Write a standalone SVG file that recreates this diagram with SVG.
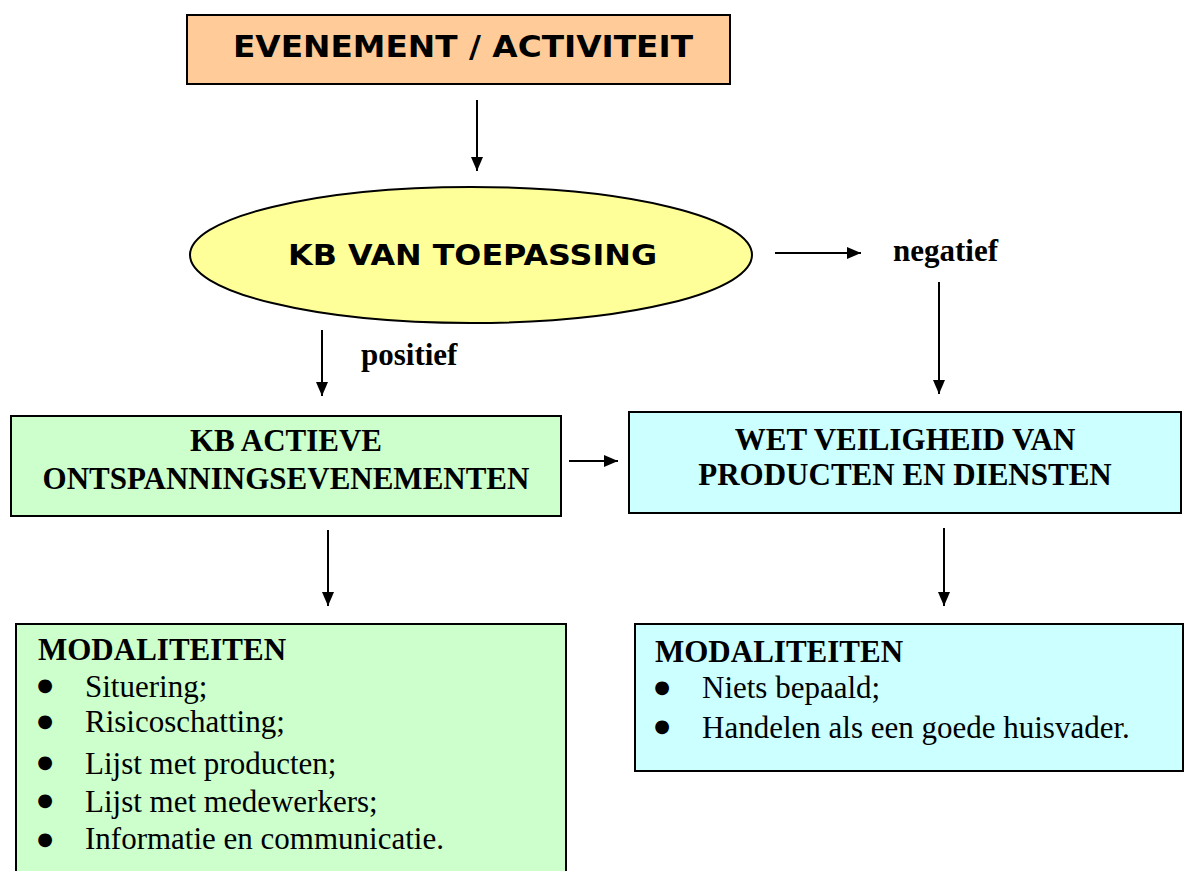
<svg xmlns="http://www.w3.org/2000/svg" width="1187" height="871" viewBox="0 0 1187 871">
<style>
.box{stroke:#000;stroke-width:2}
.sans{font-family:"DejaVu Sans",Verdana,sans-serif;font-weight:bold;fill:#000}
.serif{font-family:"Liberation Serif","Times New Roman",serif;fill:#000}
.b{font-weight:bold}
.bul{font-family:"DejaVu Sans",sans-serif;font-size:18px;fill:#000;text-anchor:middle}
.conn{stroke:#000;stroke-width:2;fill:none;marker-end:url(#ah)}
</style>
<defs>
<marker id="ah" viewBox="0 0 14 12" refX="14" refY="6" markerWidth="14" markerHeight="12" markerUnits="userSpaceOnUse" orient="auto">
<path d="M0,0 L14,6 L0,12 Z" fill="#000"/>
</marker>
</defs>
<rect width="1187" height="871" fill="#fff"/>
<g id="connectors">
<line class="conn" x1="477" y1="100" x2="477" y2="171"/>
<line class="conn" x1="775" y1="253" x2="861" y2="253"/>
<line class="conn" x1="939" y1="282" x2="939" y2="394"/>
<line class="conn" x1="322" y1="330" x2="322" y2="396"/>
<line class="conn" x1="569" y1="461" x2="618" y2="461"/>
<line class="conn" x1="328" y1="530" x2="328" y2="606"/>
<line class="conn" x1="944" y1="528" x2="944" y2="606"/>
<text class="serif b" x="893" y="261" font-size="31">negatief</text>
<text class="serif b" x="361" y="365" font-size="31">positief</text>
</g>
<g id="evenement">
<rect class="box" x="187" y="15" width="543" height="69" fill="#FFCC99"/>
<text class="sans" x="233" y="57" font-size="30" textLength="460" lengthAdjust="spacingAndGlyphs">EVENEMENT / ACTIVITEIT</text>
</g>
<g id="kb-toepassing">
<ellipse class="box" cx="471" cy="255" rx="281" ry="68" fill="#FFFF99"/>
<text class="sans" x="288" y="265" font-size="29" textLength="369" lengthAdjust="spacingAndGlyphs">KB VAN TOEPASSING</text>
</g>
<g id="kb-actieve">
<rect class="box" x="11" y="416" width="550" height="100" fill="#CCFFCC"/>
<text class="serif b" x="286" y="451" font-size="31" text-anchor="middle">KB ACTIEVE</text>
<text class="serif b" x="286" y="489" font-size="31" text-anchor="middle">ONTSPANNINGSEVENEMENTEN</text>
</g>
<g id="wet-veiligheid">
<rect class="box" x="629" y="412" width="552" height="101" fill="#CCFFFF"/>
<text class="serif b" x="905" y="450" font-size="31" text-anchor="middle">WET VEILIGHEID VAN</text>
<text class="serif b" x="905" y="485" font-size="31" text-anchor="middle">PRODUCTEN EN DIENSTEN</text>
</g>
<g id="modaliteiten-links">
<rect class="box" x="16" y="624" width="550" height="260" fill="#CCFFCC"/>
<text class="serif b" x="38" y="660" font-size="31">MODALITEITEN</text>
<g class="serif" font-size="31">
<text class="bul" x="45" y="691">●</text><text x="85" y="697">Situering;</text>
<text class="bul" x="45" y="727">●</text><text x="85" y="732">Risicoschatting;</text>
<text class="bul" x="45" y="768">●</text><text x="85" y="774">Lijst met producten;</text>
<text class="bul" x="45" y="806">●</text><text x="85" y="812">Lijst met medewerkers;</text>
<text class="bul" x="45" y="845">●</text><text x="85" y="849">Informatie en communicatie.</text>
</g>
</g>
<g id="modaliteiten-rechts">
<rect class="box" x="635" y="624" width="548" height="147" fill="#CCFFFF"/>
<text class="serif b" x="655" y="662" font-size="31">MODALITEITEN</text>
<g class="serif" font-size="31">
<text class="bul" x="662" y="693">●</text><text x="702" y="698">Niets bepaald;</text>
<text class="bul" x="662" y="732">●</text><text x="702" y="738">Handelen als een goede huisvader.</text>
</g>
</g>
</svg>
